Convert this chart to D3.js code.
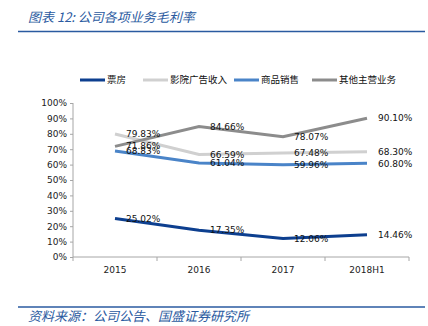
<!DOCTYPE html>
<html><head><meta charset="utf-8">
<script src="https://cdn.jsdelivr.net/npm/d3@7"></script>
<style>
body{margin:0;background:#fff;}
svg{display:block;}
</style></head>
<body>
<script>
const categories = ["2015","2016","2017","2018H1"];
const seriesNames = ["票房","影院广告收入","商品销售","其他主营业务"];
const boxOffice = [25.02, 17.35, 12.06, 14.46];
const cinemaAds = [79.83, 66.59, 67.48, 68.30];
const merchandise = [68.83, 61.04, 59.96, 60.80];
const otherMain = [71.86, 84.66, 78.07, 90.10];
const yTicks = [0,10,20,30,40,50,60,70,80,90,100];
const colors = ["#0d3f8f","#d0d0d0","#4a84c8","#8c8c8c"];
const seriesValues = [boxOffice, cinemaAds, merchandise, otherMain];

const W=428,H=326;
const svg=d3.select("body").append("svg").attr("width",W).attr("height",H);
const blue="#2a5aa0";

// title
svg.append("text").attr("x",28).attr("y",22)
  .attr("font-family","'Noto Sans CJK SC'").attr("font-size",13).attr("font-style","italic")
  .attr("fill",blue).text("图表 12:  公司各项业务毛利率");
svg.append("line").attr("x1",18).attr("x2",425).attr("y1",31.5).attr("y2",31.5)
  .attr("stroke",blue).attr("stroke-width",1.5);

// footer
svg.append("line").attr("x1",18).attr("x2",425).attr("y1",307).attr("y2",307)
  .attr("stroke",blue).attr("stroke-width",1.5);
svg.append("text").attr("x",28).attr("y",321)
  .attr("font-family","'Noto Sans CJK SC'").attr("font-size",13).attr("font-style","italic")
  .attr("fill",blue).text("资料来源：公司公告、国盛证券研究所");

const x=d3.scaleBand().domain(categories).range([73,409]).padding(0);
const y=d3.scaleLinear().domain([0,100]).range([257,103]);
const axisColor="#a6a6a6";
const numFont="'DejaVu Sans'";

// y axis
const ya=svg.append("g").attr("transform","translate(73,0)")
  .call(d3.axisLeft(y).tickValues(yTicks).tickSize(3).tickPadding(3).tickFormat(d=>d+"%"));
ya.selectAll("path,line").attr("stroke",axisColor);
ya.selectAll("text").attr("font-family",numFont).attr("font-size",9).attr("fill","#222");
ya.select(".domain").attr("d","M0,"+y(100)+"V"+y(0));

// x axis
const xa=svg.append("g").attr("transform","translate(0,257)")
  .call(d3.axisBottom(x).tickSize(0).tickPadding(10));
xa.selectAll("text").attr("font-family",numFont).attr("font-size",9).attr("fill","#222");
xa.select(".domain").attr("stroke",axisColor).attr("d","M73,0H409");
const edges=categories.map(c=>x(c)).concat([x(categories[categories.length-1])+x.bandwidth()]);
xa.selectAll(".edge").data(edges).enter().append("line")
  .attr("x1",d=>d).attr("x2",d=>d).attr("y1",0).attr("y2",4).attr("stroke",axisColor);

const cx=c=>x(c)+x.bandwidth()/2;
const line=d3.line().x((d,i)=>cx(categories[i])).y(d=>y(d));

seriesValues.forEach((vals,si)=>{
  svg.append("path").datum(vals).attr("d",line).attr("fill","none")
    .attr("stroke",colors[si]).attr("stroke-width",3);
});
seriesValues.forEach((vals,si)=>{
  svg.selectAll(".lbl"+si).data(vals).enter().append("text")
    .attr("x",(d,i)=>cx(categories[i])+11).attr("y",d=>y(d))
    .attr("dy","0.35em").attr("font-family",numFont).attr("font-size",9)
    .attr("fill","#111").text(d=>d.toFixed(2)+"%");
});

// legend
const legX=[80,143,234,312];
seriesNames.forEach((n,i)=>{
  const g=svg.append("g").attr("transform","translate("+legX[i]+",80)");
  g.append("line").attr("x1",0).attr("x2",25).attr("y1",0).attr("y2",0)
    .attr("stroke",colors[i]).attr("stroke-width",3);
  g.append("text").attr("x",27).attr("y",0).attr("dy","0.35em")
    .attr("font-family","'Noto Sans CJK SC'").attr("font-size",9.5).attr("fill","#111").text(n);
});
</script>
</body></html>
